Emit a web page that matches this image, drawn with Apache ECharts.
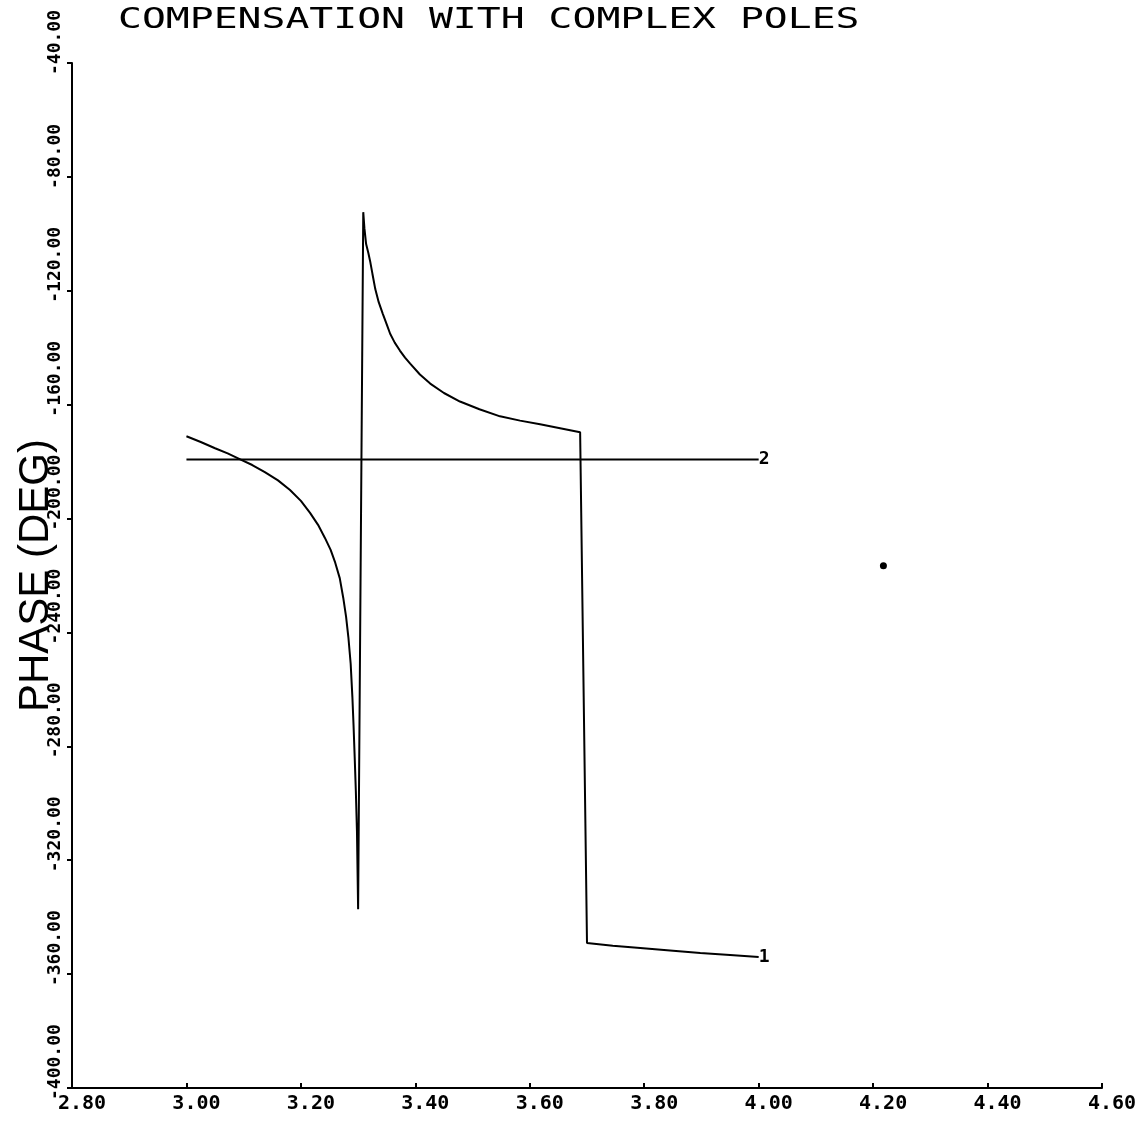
<!DOCTYPE html>
<html>
<head>
<meta charset="utf-8">
<script src="https://cdn.jsdelivr.net/npm/echarts@6/dist/echarts.min.js"></script>
<style>
html,body{margin:0;padding:0;background:#fff;}
#chart{width:1144px;height:1121px;}
</style>
</head>
<body>
<div id="chart"></div>
<script>
const titleText = 'COMPENSATION WITH COMPLEX POLES';
const yAxisName = 'PHASE (DEG)';
const xTicks = [2.8, 3.0, 3.2, 3.4, 3.6, 3.8, 4.0, 4.2, 4.4, 4.6];
const yTicks = [-400, -360, -320, -280, -240, -200, -160, -120, -80, -40];

// Curve 1
const curve1X = [3.000, 3.025, 3.050, 3.072, 3.094, 3.115, 3.137, 3.160, 3.181, 3.200, 3.216, 3.230, 3.242, 3.252, 3.260, 3.268, 3.274, 3.279, 3.283, 3.287, 3.290, 3.292, 3.294, 3.296, 3.298, 3.300,
  3.309, 3.311, 3.314, 3.318, 3.321, 3.325, 3.330, 3.336, 3.343, 3.350, 3.356, 3.364, 3.373, 3.382, 3.391, 3.408, 3.426, 3.450, 3.478, 3.512, 3.548, 3.583, 3.618, 3.653, 3.688,
  3.700, 3.745, 3.793, 3.845, 3.898, 3.950, 4.000];
const curve1Y = [-171.1, -173.1, -175.3, -177.1, -179.2, -181.2, -183.7, -186.6, -190.0, -193.8, -198.0, -202.2, -206.8, -211.0, -215.5, -221.0, -227.8, -234.5, -241.7, -251.0, -262.7, -272.5, -283.7, -295.5, -310.0, -337.2,
  -92.4, -98.0, -103.6, -106.8, -109.6, -114.0, -119.4, -124.0, -128.0, -131.8, -135.1, -138.2, -141.0, -143.5, -145.6, -149.4, -152.6, -155.9, -158.9, -161.6, -164.1, -165.6, -166.9, -168.3, -169.7,
  -349.1, -350.0, -350.8, -351.7, -352.6, -353.3, -354.0];

// Curve 2
const curve2X = [3.0, 4.0];
const curve2Y = [-179.3, -179.3];

// stray dot
const dotX = [4.218];
const dotY = [-216.6];

const pairs = (xs, ys) => xs.map((x, i) => [x, ys[i]]);

const chart = echarts.init(document.getElementById('chart'), null, {renderer: 'canvas'});
const labelFont = '"DejaVu Sans Mono", monospace';

chart.setOption({
  backgroundColor: '#ffffff',
  animation: false,
  grid: {left: 72, right: 42, top: 63, bottom: 33, containLabel: false, outerBoundsMode: 'none'},
  graphic: [{
    type: 'text',
    left: 118, top: 6,
    scaleX: 1.37,
    style: {
      text: titleText,
      font: '29px "DejaVu Sans Mono", monospace',
      fill: '#000'
    }
  }],
  xAxis: {
    type: 'value', min: 2.8, max: 4.6, interval: 0.2,
    axisLine: {show: true, lineStyle: {color: '#000', width: 2}},
    axisTick: {show: true, inside: true, length: 5, lineStyle: {color: '#000', width: 2}},
    splitLine: {show: false},
    axisLabel: {
      color: '#000', fontFamily: labelFont, fontWeight: 'bold', fontSize: 20,
      margin: 6, align: 'center', padding: [0, 0, 0, 20],
      formatter: v => v.toFixed(2)
    }
  },
  yAxis: {
    type: 'value', min: -400, max: -40, interval: 40,
    name: yAxisName, nameLocation: 'middle', nameGap: 15, nameMoveOverlap: false,
    nameTextStyle: {color: '#000', fontFamily: '"Liberation Sans", Arial, sans-serif', fontSize: 42},
    axisLine: {show: true, lineStyle: {color: '#000', width: 2}},
    axisTick: {show: true, inside: false, length: 5, lineStyle: {color: '#000', width: 2}},
    splitLine: {show: false},
    axisLabel: {
      color: '#000', fontFamily: labelFont, fontWeight: 'bold', fontSize: 18,
      rotate: 90, align: 'left', verticalAlign: 'middle', margin: 17,
      padding: [0, 0, 0, -12],
      formatter: v => v.toFixed(2)
    }
  },
  series: [
    {
      type: 'line', data: pairs(curve1X, curve1Y), showSymbol: false, symbol: 'none',
      lineStyle: {color: '#000', width: 2}, smooth: false,
      endLabel: {show: true, formatter: '1', color: '#000', fontFamily: labelFont, fontWeight: 'bold', fontSize: 18, distance: 0}
    },
    {
      type: 'line', data: pairs(curve2X, curve2Y), showSymbol: false, symbol: 'none',
      lineStyle: {color: '#000', width: 2},
      endLabel: {show: true, formatter: '2', color: '#000', fontFamily: labelFont, fontWeight: 'bold', fontSize: 18, distance: 0}
    },
    {
      type: 'scatter', data: pairs(dotX, dotY), symbol: 'circle', symbolSize: 7,
      itemStyle: {color: '#000', opacity: 1}
    }
  ]
});
</script>
</body>
</html>
